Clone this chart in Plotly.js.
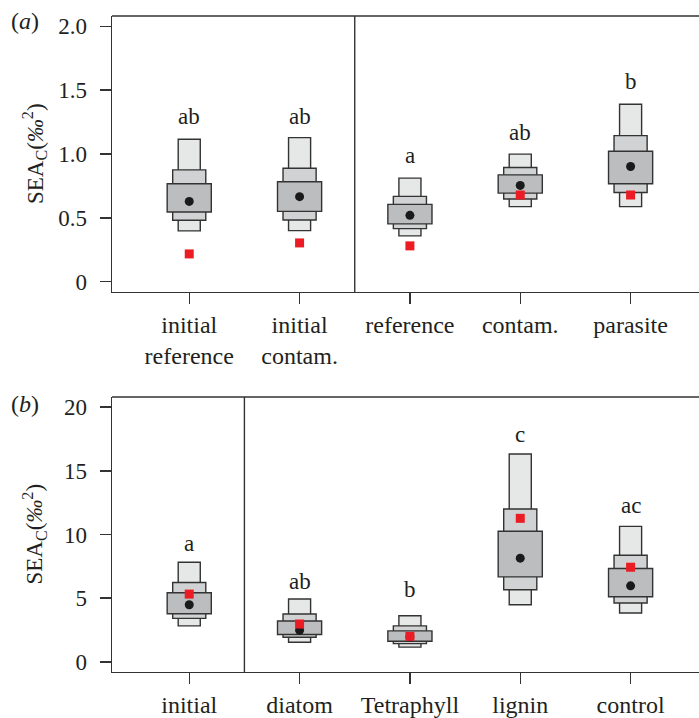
<!DOCTYPE html>
<html>
<head>
<meta charset="utf-8">
<script src="https://cdn.plot.ly/plotly-3.0.1.min.js"></script>
<style>html,body{margin:0;padding:0;background:#fff;}#chart{width:699px;height:718px;}</style>
</head>
<body>
<div id="chart"></div>
<script>
// ---------- Panel (a) data ----------
const groupsA = ["initial<br>reference", "initial<br>contam.", "reference", "contam.", "parasite"];
const hi95A = [1.116, 1.128, 0.811, 0.999, 1.389];
const hi75A = [0.876, 0.889, 0.668, 0.894, 1.144];
const hi50A = [0.767, 0.783, 0.606, 0.837, 1.022];
const lo50A = [0.546, 0.551, 0.453, 0.694, 0.767];
const lo75A = [0.481, 0.484, 0.416, 0.648, 0.699];
const lo95A = [0.398, 0.400, 0.359, 0.588, 0.588];
const modeA = [0.629, 0.666, 0.520, 0.754, 0.902];
const mlA   = [0.218, 0.304, 0.281, 0.679, 0.679];
const lettersA = ["ab", "ab", "a", "ab", "b"];
const letterYA = [1.235, 1.235, 0.929, 1.110, 1.506];
const yTicksA = [0, 0.5, 1, 1.5, 2];
const yTickTextA = ["0", "0.5", "1.0", "1.5", "2.0"];

// ---------- Panel (b) data ----------
const groupsB = ["initial", "diatom", "Tetraphyll", "lignin", "control"];
const hi95B = [7.82, 4.93, 3.62, 16.32, 10.64];
const hi75B = [6.23, 3.76, 2.82, 12.00, 8.37];
const hi50B = [5.42, 3.21, 2.43, 10.25, 7.33];
const lo50B = [3.78, 2.14, 1.61, 6.67, 5.11];
const lo75B = [3.41, 1.93, 1.43, 5.66, 4.62];
const lo95B = [2.82, 1.54, 1.15, 4.48, 3.83];
const modeB = [4.48, 2.48, 1.96, 8.14, 5.97];
const mlB   = [5.32, 2.97, 2.00, 11.27, 7.43];
const lettersB = ["a", "ab", "b", "c", "ac"];
const letterYB = [8.69, 5.74, 5.13, 17.3, 11.7];
const yTicksB = [0, 5, 10, 15, 20];
const yTickTextB = ["0", "5", "10", "15", "20"];

const xPos = [1, 2, 3, 4, 5];

// ---------- styles ----------
const FONT = "Liberation Serif, Times New Roman, serif";
const TXT = "#231f20";
const EDGE = "#333333";
const C95 = "#e6e7e7", C75 = "#d1d2d3", C50 = "#bcbdbf";

function boxTraces(lo95, hi95, lo75, hi75, lo50, hi50, mode, ml, xa, ya) {
  const diff = (hi, lo) => hi.map((h, i) => h - lo[i]);
  const mk = (lo, hi, w, col) => ({
    type: "bar", x: xPos, base: lo, y: diff(hi, lo), width: w,
    marker: {color: col, line: {color: EDGE, width: 1.4}},
    xaxis: xa, yaxis: ya, hoverinfo: "skip", showlegend: false
  });
  return [
    mk(lo95, hi95, 0.2, C95),
    mk(lo75, hi75, 0.3, C75),
    mk(lo50, hi50, 0.4, C50),
    {type: "scatter", mode: "markers", x: xPos, y: mode, xaxis: xa, yaxis: ya,
     marker: {symbol: "circle", size: 9, color: "#1a1a1a"}, hoverinfo: "skip", showlegend: false},
    {type: "scatter", mode: "markers", x: xPos, y: ml, xaxis: xa, yaxis: ya,
     marker: {symbol: "square", size: 9, color: "#ec1c24"}, hoverinfo: "skip", showlegend: false}
  ];
}

const data = [].concat(
  boxTraces(lo95A, hi95A, lo75A, hi75A, lo50A, hi50A, modeA, mlA, "x", "y"),
  boxTraces(lo95B, hi95B, lo75B, hi75B, lo50B, hi50B, modeB, mlB, "x2", "y2")
);

const W = 699, H = 718;
const xDom = [112 / W, 1];
const yDomA = [1 - 292 / H, 1 - 16 / H];
const yDomB = [1 - 672 / H, 1 - 397 / H];

const axisCommon = {
  showline: true, linecolor: EDGE, linewidth: 1.4,
  ticks: "outside", ticklen: 11, tickwidth: 1.4, tickcolor: EDGE,
  showgrid: false, zeroline: false, fixedrange: true
};
const xCommon = Object.assign({}, axisCommon, {
  domain: xDom, range: [0.3, 5.62], tickvals: xPos,
  tickfont: {family: FONT, size: 24, color: TXT}, ticklabelstandoff: 0
});
const yCommon = Object.assign({}, axisCommon, {
  tickfont: {family: FONT, size: 23, color: TXT}, ticklabelstandoff: 8
});

const annotations = [];
function letters(lab, ly, xa, ya) {
  lab.forEach((t, i) => annotations.push({
    x: xPos[i], y: ly[i], xref: xa, yref: ya, text: t, showarrow: false,
    xanchor: "center", yanchor: "bottom", yshift: -7,
    font: {family: FONT, size: 23, color: TXT}
  }));
}
letters(lettersA, letterYA, "x", "y");
letters(lettersB, letterYB, "x2", "y2");

const ytitle = "SEA<sub>C</sub>(<i>‰</i><sup>2</sup>)";
annotations.push({x: 34 / W, y: (yDomA[0] + yDomA[1]) / 2, xref: "paper", yref: "paper",
  text: ytitle, textangle: -90, showarrow: false, xanchor: "center", yanchor: "middle",
  font: {family: FONT, size: 23, color: TXT}});
annotations.push({x: 34 / W, y: (yDomB[0] + yDomB[1]) / 2, xref: "paper", yref: "paper",
  text: ytitle, textangle: -90, showarrow: false, xanchor: "center", yanchor: "middle",
  font: {family: FONT, size: 23, color: TXT}});
annotations.push({x: 9 / W, y: 1 - 30 / H, xref: "paper", yref: "paper", text: "(<i>a</i>)",
  showarrow: false, xanchor: "left", yanchor: "bottom", yshift: -6,
  font: {family: FONT, size: 24, color: TXT}});
annotations.push({x: 9 / W, y: 1 - 413 / H, xref: "paper", yref: "paper", text: "(<i>b</i>)",
  showarrow: false, xanchor: "left", yanchor: "bottom", yshift: -6,
  font: {family: FONT, size: 24, color: TXT}});

const lineStyle = {color: EDGE, width: 1.4};
const shapes = [
  {type: "line", xref: "x", yref: "y domain", x0: 2.5, x1: 2.5, y0: 0, y1: 1, line: lineStyle},
  {type: "line", xref: "x2", yref: "y2 domain", x0: 1.5, x1: 1.5, y0: 0, y1: 1, line: lineStyle},
  {type: "line", xref: "x domain", yref: "y domain", x0: 0, x1: 1, y0: 1, y1: 1, line: lineStyle},
  {type: "line", xref: "x2 domain", yref: "y2 domain", x0: 0, x1: 1, y0: 1, y1: 1, line: lineStyle}
];

const layout = {
  width: W, height: H,
  margin: {l: 0, r: 0, t: 0, b: 0, pad: 0},
  paper_bgcolor: "#ffffff", plot_bgcolor: "#ffffff",
  barmode: "overlay", showlegend: false,
  font: {family: FONT, color: TXT},
  xaxis: Object.assign({}, xCommon, {anchor: "y", ticktext: groupsA}),
  yaxis: Object.assign({}, yCommon, {anchor: "x", domain: yDomA, range: [-0.08, 2.08],
    tickvals: yTicksA, ticktext: yTickTextA}),
  xaxis2: Object.assign({}, xCommon, {anchor: "y2", ticktext: groupsB}),
  yaxis2: Object.assign({}, yCommon, {anchor: "x2", domain: yDomB, range: [-0.8, 20.8],
    tickvals: yTicksB, ticktext: yTickTextB}),
  annotations: annotations,
  shapes: shapes
};

Plotly.newPlot("chart", data, layout, {displayModeBar: false, staticPlot: true});
</script>
</body>
</html>
